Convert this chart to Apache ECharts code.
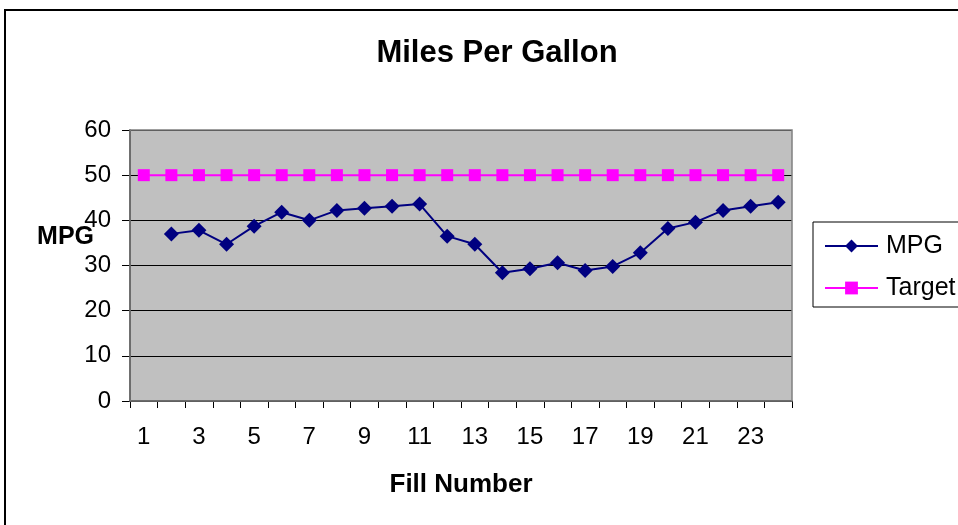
<!DOCTYPE html>
<html>
<head>
<meta charset="utf-8">
<script src="https://cdn.jsdelivr.net/npm/echarts@6/dist/echarts.min.js"></script>
<style>
html,body{margin:0;padding:0;background:#fff;}
#c{width:958px;height:525px;}
</style>
</head>
<body>
<div id="c"></div>
<script>
var categories = ['1','2','3','4','5','6','7','8','9','10','11','12','13','14','15','16','17','18','19','20','21','22','23','24'];
var mpgValues = [null,37,37.8,34.7,38.7,41.8,40,42.2,42.7,43.1,43.6,36.5,34.7,28.4,29.3,30.6,28.9,29.8,32.8,38.2,39.6,42.2,43.1,44.0];
var targetValues = [50,50,50,50,50,50,50,50,50,50,50,50,50,50,50,50,50,50,50,50,50,50,50,50];
var yTicks = {min:0, max:60, interval:10};

var chart = echarts.init(document.getElementById('c'), null, {renderer:'canvas'});
var font = 'Arial, "Liberation Sans", sans-serif';
chart.setOption({
  animation:false,
  backgroundColor:'#fff',
  graphic:[
    {type:'rect', shape:{x:5,y:10,width:1000,height:600}, style:{fill:'none', stroke:'#000', lineWidth:2}, z:0},
    {type:'rect', shape:{x:130,y:130,width:662,height:271}, style:{fill:'none', stroke:'#808080', lineWidth:1.5}, z:1}
  ],
  title:{
    text:'Miles Per Gallon', left:492, top:33, textAlign:'center',
    textStyle:{fontFamily:font, fontSize:31, fontWeight:'bold', color:'#000'}
  },
  legend:{
    orient:'vertical', left:813, top:222,
    padding:[10,60,5,11],
    borderColor:'#000', borderWidth:1,
    itemWidth:53, itemHeight:16, itemGap:14,
    textStyle:{fontFamily:font, fontSize:25, color:'#000', lineHeight:28, padding:[0,0,0,3]},
    data:['MPG','Target']
  },
  grid:{left:130, top:130, width:662, height:271, show:true, backgroundColor:'#c0c0c0', borderWidth:0},
  xAxis:{
    type:'category', data:categories, boundaryGap:true,
    name:'Fill Number', nameLocation:'middle', nameGap:71,
    nameTextStyle:{fontFamily:font, fontSize:26, fontWeight:'bold', color:'#000'},
    axisLine:{lineStyle:{color:'#000', width:1.5}},
    axisTick:{show:true, interval:0, length:7, lineStyle:{color:'#000'}},
    axisLabel:{interval:1, margin:24, fontFamily:font, fontSize:24, color:'#000'}
  },
  yAxis:{
    type:'value', min:yTicks.min, max:yTicks.max, interval:yTicks.interval,
    name:'MPG\n ', nameLocation:'middle', nameRotate:0, nameGap:36, nameMoveOverlap:false,
    nameTextStyle:{fontFamily:font, fontSize:25, fontWeight:'bold', color:'#000', lineHeight:56},
    axisLine:{show:true, lineStyle:{color:'#000', width:1.5}},
    axisTick:{show:true, length:8, lineStyle:{color:'#000'}},
    axisLabel:{margin:19, fontFamily:font, fontSize:24, color:'#000'},
    splitLine:{show:true, lineStyle:{color:'#000', width:1}}
  },
  series:[
    {name:'MPG', type:'line', data:mpgValues, connectNulls:false,
     symbol:'diamond', symbolSize:15,
     lineStyle:{color:'#000080', width:2},
     itemStyle:{color:'#000080'}, z:3},
    {name:'Target', type:'line', data:targetValues,
     symbol:'rect', symbolSize:12,
     lineStyle:{color:'#ff00ff', width:2},
     itemStyle:{color:'#ff00ff'}, z:3}
  ]
});
</script>
</body>
</html>
